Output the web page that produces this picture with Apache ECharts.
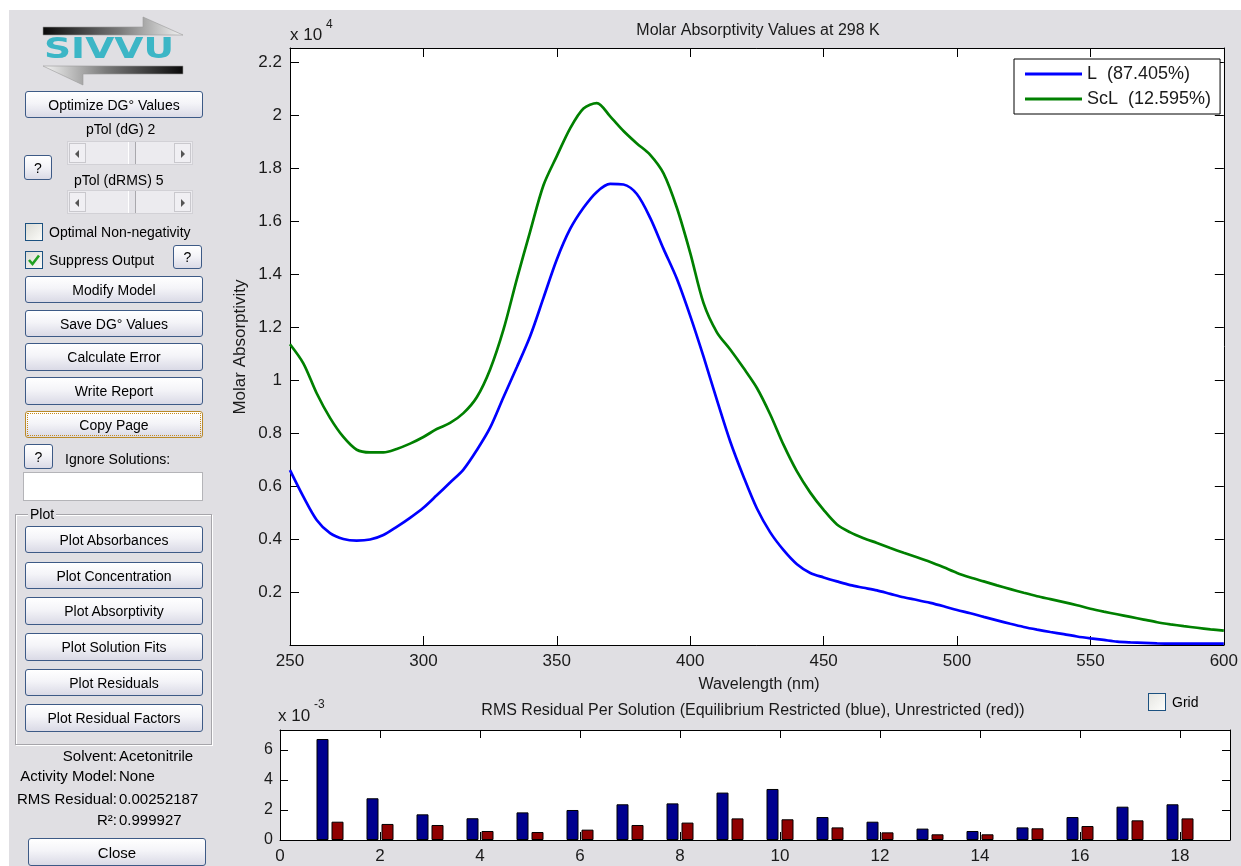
<!DOCTYPE html>
<html>
<head>
<meta charset="utf-8">
<title>SIVVU - Molar Absorptivity</title>
<script src="https://cdn.jsdelivr.net/npm/echarts@6/dist/echarts.min.js"></script>
<style>
  html, body { margin: 0; padding: 0; width: 1241px; height: 866px; overflow: hidden; background: #fff;
    font-family: "Liberation Sans", Arial, sans-serif; }
  #win { position: absolute; left: 9px; top: 10px; width: 1232px; height: 856px; background: #e0dfe3; }
  #chart { position: absolute; left: 0; top: 0; width: 1241px; height: 866px; }
  .ui { position: absolute; box-sizing: border-box; }
  .btn { position: absolute; box-sizing: border-box; border: 1px solid #3d5a86; border-radius: 3px;
    background: linear-gradient(#ffffff 0%, #f4f4f8 45%, #dadae6 100%);
    font-size: 14px; color: #000; display: flex; align-items: center; justify-content: center; white-space: nowrap; }
  .btn.focus { border-color: #b98a2a; }
  .btn.focus::after { content: ""; position: absolute; left: 1px; top: 1px; right: 1px; bottom: 1px;
    border: 1px dotted #c88a18; }
  .lbl { position: absolute; font-size: 14px; color: #000; white-space: nowrap; line-height: 16px; }
  .chk { position: absolute; box-sizing: border-box; width: 18px; height: 18px; border: 1px solid #1c5180;
    background: linear-gradient(135deg, #dcdcd6, #fbfbf8); }
  .slider { position: absolute; box-sizing: border-box; width: 126px; height: 24px; background: #ecebef;
    border: 1px solid #d2d1d6; }
  .slider .arr { position: absolute; top: 1px; width: 17px; height: 20px; box-sizing: border-box;
    border: 1px solid #c9c8cd; background: #f0eff3; }
  .slider .arr::after { content: ""; position: absolute; top: 6px; border-top: 4px solid transparent; border-bottom: 4px solid transparent; }
  .slider .l::after { left: 5px; border-right: 4px solid #555; }
  .slider .r::after { left: 6px; border-left: 4px solid #555; }
  .slider .thumb { position: absolute; top: 0px; width: 8px; height: 22px; box-sizing: border-box;
    border-left: 1px solid #fff; border-right: 1px solid #a9a8ad; background: #e4e3e8; }
  .stat { position: absolute; font-size: 15px; color: #000; white-space: nowrap; line-height: 18px; }
</style>
</head>
<body>
<div id="win"></div>
<div id="chart"></div>

<!-- control panel -->
<svg class="ui" style="left:0;top:0" width="220" height="95">
  <defs>
    <linearGradient id="gTop" x1="0" x2="1" y1="0" y2="0">
      <stop offset="0" stop-color="#0a0a0a"/><stop offset="0.55" stop-color="#7a7a7a"/><stop offset="1" stop-color="#f4f4f4"/>
    </linearGradient>
    <linearGradient id="gBot" x1="0" x2="1" y1="0" y2="0">
      <stop offset="0" stop-color="#f4f4f4"/><stop offset="0.45" stop-color="#7a7a7a"/><stop offset="1" stop-color="#0a0a0a"/>
    </linearGradient>
  </defs>
  <polygon points="43,27 143,27 143,17 183,35 43,35" fill="url(#gTop)" stroke="#9a9a9a" stroke-width="0.6"/>
  <polygon points="183,66 83,66 43,66 83,85 83,74 183,74" fill="url(#gBot)" stroke="#9a9a9a" stroke-width="0.6"/>
  <text x="44" y="58" textLength="130" lengthAdjust="spacingAndGlyphs" font-family="DejaVu Sans, Verdana, sans-serif"
        font-weight="bold" font-size="28" fill="#3cb6c6">SIVVU</text>
</svg>

<div class="btn" style="left:25px;top:91px;width:178px;height:27px">Optimize DG° Values</div>
<div class="lbl" style="left:86px;top:121px">pTol (dG) 2</div>
<div class="slider" style="left:67px;top:141px"><div class="arr l" style="left:1px"></div><div class="thumb" style="left:60px"></div><div class="arr r" style="right:1px"></div></div>
<div class="btn" style="left:24px;top:155px;width:28px;height:25px">?</div>
<div class="lbl" style="left:74px;top:172px">pTol (dRMS) 5</div>
<div class="slider" style="left:67px;top:190px"><div class="arr l" style="left:1px"></div><div class="thumb" style="left:60px"></div><div class="arr r" style="right:1px"></div></div>

<div class="chk" style="left:25px;top:223px"></div>
<div class="lbl" style="left:49px;top:224px">Optimal Non-negativity</div>
<div class="chk" style="left:25px;top:251px">
  <svg width="16" height="16" style="position:absolute;left:0;top:0"><path d="M3 8 L6.5 12 L13 3.5" fill="none" stroke="#21a121" stroke-width="2.6"/></svg>
</div>
<div class="lbl" style="left:49px;top:252px">Suppress Output</div>
<div class="btn" style="left:173px;top:245px;width:29px;height:24px">?</div>

<div class="btn" style="left:25px;top:276px;width:178px;height:27px">Modify Model</div>
<div class="btn" style="left:25px;top:310px;width:178px;height:27px">Save DG° Values</div>
<div class="btn" style="left:25px;top:343px;width:178px;height:28px">Calculate Error</div>
<div class="btn" style="left:25px;top:377px;width:178px;height:28px">Write Report</div>
<div class="btn focus" style="left:25px;top:411px;width:178px;height:27px">Copy Page</div>
<div class="btn" style="left:24px;top:444px;width:29px;height:25px">?</div>
<div class="lbl" style="left:65px;top:451px">Ignore Solutions:</div>
<div class="ui" style="left:23px;top:472px;width:180px;height:29px;background:#fff;border:1px solid #b4b4b8"></div>

<div class="ui" style="left:15px;top:514px;width:197px;height:231px;border:1px solid #a6a5aa;box-shadow:inset 1px 1px 0 #fff, 1px 1px 0 #fff"></div>
<div class="lbl" style="left:28px;top:506px;background:#e0dfe3;padding:0 2px">Plot</div>
<div class="btn" style="left:25px;top:526px;width:178px;height:27px">Plot Absorbances</div>
<div class="btn" style="left:25px;top:562px;width:178px;height:27px">Plot Concentration</div>
<div class="btn" style="left:25px;top:597px;width:178px;height:28px">Plot Absorptivity</div>
<div class="btn" style="left:25px;top:633px;width:178px;height:28px">Plot Solution Fits</div>
<div class="btn" style="left:25px;top:669px;width:178px;height:27px">Plot Residuals</div>
<div class="btn" style="left:25px;top:704px;width:178px;height:28px">Plot Residual Factors</div>

<div class="stat" style="left:0;width:117px;text-align:right;top:747px">Solvent:</div>
<div class="stat" style="left:119px;top:747px">Acetonitrile</div>
<div class="stat" style="left:0;width:117px;text-align:right;top:767px">Activity Model:</div>
<div class="stat" style="left:119px;top:767px">None</div>
<div class="stat" style="left:0;width:117px;text-align:right;top:790px">RMS Residual:</div>
<div class="stat" style="left:119px;top:790px">0.00252187</div>
<div class="stat" style="left:0;width:117px;text-align:right;top:811px">R²:</div>
<div class="stat" style="left:119px;top:811px">0.999927</div>
<div class="btn" style="left:28px;top:838px;width:178px;height:28px;font-size:15px">Close</div>

<div class="chk" style="left:1148px;top:693px;background:linear-gradient(135deg,#e6e6e2,#fdfdfb)"></div>
<div class="lbl" style="left:1172px;top:694px;font-size:14px">Grid</div>

<script>
// Wavelength grid (nm)
var wavelength = [
  250, 255, 260, 265, 270, 275, 280, 285, 290, 295,
  300, 305, 310, 315, 320, 325, 330, 335, 340, 345,
  350, 355, 360, 365, 370, 375, 380, 385, 390, 395,
  400, 405, 410, 415, 420, 425, 430, 435, 440, 445,
  450, 455, 460, 465, 470, 475, 480, 485, 490, 495,
  500, 505, 510, 515, 520, 525, 530, 535, 540, 545,
  550, 555, 560, 565, 570, 575, 580, 585, 590, 595,
  600
];

// Molar absorptivity of the free ligand L (M^-1 cm^-1)
var absorptivityL = [
  6600, 5600, 4720, 4220, 4000, 3940, 3980, 4150, 4460, 4800,
  5180, 5650, 6130, 6620, 7350, 8200, 9350, 10480, 11650, 13100,
  14550, 15700, 16500, 17100, 17400, 17380, 17020, 16120, 14950, 13820,
  12420, 10880, 9250, 7680, 6350, 5150, 4250, 3580, 3050, 2720,
  2550, 2400, 2260, 2160, 2060, 1930, 1800, 1700, 1590, 1460,
  1320, 1200, 1060, 930, 800, 680, 580, 490, 410, 320,
  250, 190, 130, 100, 80, 60, 50, 50, 50, 50,
  50
];

// Molar absorptivity of the complex ScL (M^-1 cm^-1)
var absorptivityScL = [
  11350, 10630, 9500, 8570, 7850, 7370, 7270, 7270, 7400, 7600,
  7850, 8150, 8380, 8750, 9350, 10400, 11900, 13800, 15600, 17350,
  18450, 19500, 20250, 20450, 19950, 19400, 18930, 18500, 17800, 16500,
  14800, 12900, 11800, 11150, 10450, 9700, 8700, 7550, 6550, 5750,
  5100, 4550, 4250, 4030, 3850, 3660, 3480, 3310, 3130, 2930,
  2720, 2550, 2400, 2250, 2110, 1970, 1840, 1730, 1620, 1500,
  1370, 1260, 1160, 1060, 960, 860, 780, 710, 650, 590,
  540
];

var legendNames = ['L  (87.405%)', 'ScL  (12.595%)'];

// RMS residual for each solution
var solution = [1, 2, 3, 4, 5, 6, 7, 8, 9, 10, 11, 12, 13, 14, 15, 16, 17, 18];
var rmsRestricted = [
  0.00673, 0.00278, 0.00171, 0.00145, 0.00184, 0.00200, 0.00238, 0.00244, 0.00316,
  0.00340, 0.00153, 0.00122, 0.00076, 0.00060, 0.00084, 0.00153, 0.00222, 0.00238
];
var rmsUnrestricted = [
  0.00122, 0.00107, 0.00100, 0.00060, 0.00053, 0.00069, 0.00100, 0.00116, 0.00144,
  0.00138, 0.00084, 0.00051, 0.00038, 0.00038, 0.00078, 0.00093, 0.00131, 0.00144
];

function pairs(xs, ys) { return xs.map(function (x, i) { return [x, ys[i]]; }); }

var FONT = '"Liberation Sans", Arial, sans-serif';
var TXT = '#1a1a1a';

function frameAxis(extra) {
  var base = {
    type: 'value',
    axisLine: { show: true, onZero: false, lineStyle: { color: '#000', width: 1 } },
    axisTick: { show: true, inside: true, length: 9, lineStyle: { color: '#000' } },
    splitLine: { show: false },
    axisLabel: { show: false }
  };
  for (var k in extra) base[k] = extra[k];
  return base;
}

var chart = echarts.init(document.getElementById('chart'), null, { renderer: 'canvas' });

chart.setOption({
  animation: false,
  backgroundColor: 'transparent',
  textStyle: { fontFamily: FONT },
  grid: [
    { left: 290, top: 48, width: 939, height: 597, show: true, backgroundColor: '#fff', borderWidth: 0 },
    { left: 280, top: 730, width: 950, height: 110, show: true, backgroundColor: '#fff', borderWidth: 0 }
  ],
  xAxis: [
    frameAxis({
      gridIndex: 0, position: 'bottom', min: 250, max: 600, interval: 50,
      axisLabel: { show: true, fontSize: 17, color: TXT, margin: 8, showMaxLabel: true }
    }),
    frameAxis({ gridIndex: 0, position: 'top', min: 250, max: 600, interval: 50 }),
    frameAxis({
      gridIndex: 1, position: 'bottom', min: 0, max: 19, interval: 2,
      axisTick: { show: true, inside: true, length: 8, lineStyle: { color: '#000' } },
      axisLabel: {
        show: true, fontSize: 17, color: TXT, margin: 8, showMaxLabel: false,
        formatter: function (v) { return v > 18 ? '' : String(v); }
      }
    }),
    frameAxis({
      gridIndex: 1, position: 'top', min: 0, max: 19, interval: 2,
      axisTick: { show: true, inside: true, length: 8, lineStyle: { color: '#000' } }
    })
  ],
  yAxis: [
    frameAxis({
      gridIndex: 0, position: 'left', min: 0, max: 22530, interval: 2000,
      axisLabel: {
        show: true, fontSize: 17, color: TXT, margin: 8, showMaxLabel: false,
        formatter: function (v) {
          if (v === 0 || v > 22000) return '';
          return String(parseFloat((v / 1e4).toFixed(1)));
        }
      }
    }),
    frameAxis({ gridIndex: 0, position: 'right', min: 0, max: 22530, interval: 2000 }),
    frameAxis({
      gridIndex: 1, position: 'left', min: 0, max: 0.00733, interval: 0.002,
      axisTick: { show: true, inside: true, length: 8, lineStyle: { color: '#000' } },
      axisLabel: {
        show: true, fontSize: 16, color: TXT, margin: 7, showMaxLabel: false,
        formatter: function (v) { return v > 0.0065 ? '' : String(Math.round(v * 1000)); }
      }
    }),
    frameAxis({
      gridIndex: 1, position: 'right', min: 0, max: 0.00733, interval: 0.002,
      axisTick: { show: true, inside: true, length: 8, lineStyle: { color: '#000' } }
    })
  ],
  legend: {
    data: legendNames,
    orient: 'vertical',
    left: 1014, top: 59,
    padding: [6, 9, 6, 11],
    itemGap: 7,
    itemWidth: 57, itemHeight: 3,
    icon: 'rect',
    backgroundColor: '#fff',
    borderColor: '#000', borderWidth: 1, borderRadius: 0,
    selectedMode: false,
    textStyle: { fontSize: 18, color: TXT, fontFamily: FONT }
  },
  series: [
    {
      name: legendNames[0], type: 'line', xAxisIndex: 0, yAxisIndex: 0,
      data: pairs(wavelength, absorptivityL), symbol: 'none', smooth: 0.3,
      lineStyle: { color: '#0000ff', width: 2.7 }, itemStyle: { color: '#0000ff' }, z: 3
    },
    {
      name: legendNames[1], type: 'line', xAxisIndex: 0, yAxisIndex: 0,
      data: pairs(wavelength, absorptivityScL), symbol: 'none', smooth: 0.3,
      lineStyle: { color: '#008000', width: 2.7 }, itemStyle: { color: '#008000' }, z: 3
    },
    {
      name: 'Equilibrium Restricted', type: 'bar', xAxisIndex: 2, yAxisIndex: 2,
      data: pairs(solution, rmsRestricted), barWidth: 12, barGap: '25%',
      itemStyle: { color: '#00008f', borderColor: '#000', borderWidth: 1 }
    },
    {
      name: 'Unrestricted', type: 'bar', xAxisIndex: 2, yAxisIndex: 2,
      data: pairs(solution, rmsUnrestricted), barWidth: 12, barGap: '25%',
      itemStyle: { color: '#8f0000', borderColor: '#000', borderWidth: 1 }
    }
  ],
  graphic: [
    { type: 'text', x: 758, y: 31, style: { text: 'Molar Absorptivity Values at 298 K', font: '16px ' + FONT, fill: TXT, textAlign: 'center', textVerticalAlign: 'middle' } },
    { type: 'text', x: 290, y: 35, style: { text: 'x 10', font: '17px ' + FONT, fill: TXT, textAlign: 'left', textVerticalAlign: 'middle' } },
    { type: 'text', x: 326, y: 25, style: { text: '4', font: '12px ' + FONT, fill: TXT, textAlign: 'left', textVerticalAlign: 'middle' } },
    { type: 'text', x: 240, y: 347, rotation: Math.PI / 2, style: { text: 'Molar Absorptivity', font: '17px ' + FONT, fill: TXT, textAlign: 'center', textVerticalAlign: 'middle' } },
    { type: 'text', x: 759, y: 685, style: { text: 'Wavelength (nm)', font: '16px ' + FONT, fill: TXT, textAlign: 'center', textVerticalAlign: 'middle' } },
    { type: 'text', x: 753, y: 711, style: { text: 'RMS Residual Per Solution (Equilibrium Restricted (blue), Unrestricted (red))', font: '16px ' + FONT, fill: TXT, textAlign: 'center', textVerticalAlign: 'middle' } },
    { type: 'text', x: 278, y: 716, style: { text: 'x 10', font: '17px ' + FONT, fill: TXT, textAlign: 'left', textVerticalAlign: 'middle' } },
    { type: 'text', x: 314, y: 705, style: { text: '-3', font: '12px ' + FONT, fill: TXT, textAlign: 'left', textVerticalAlign: 'middle' } }
  ]
});
</script>
</body>
</html>
